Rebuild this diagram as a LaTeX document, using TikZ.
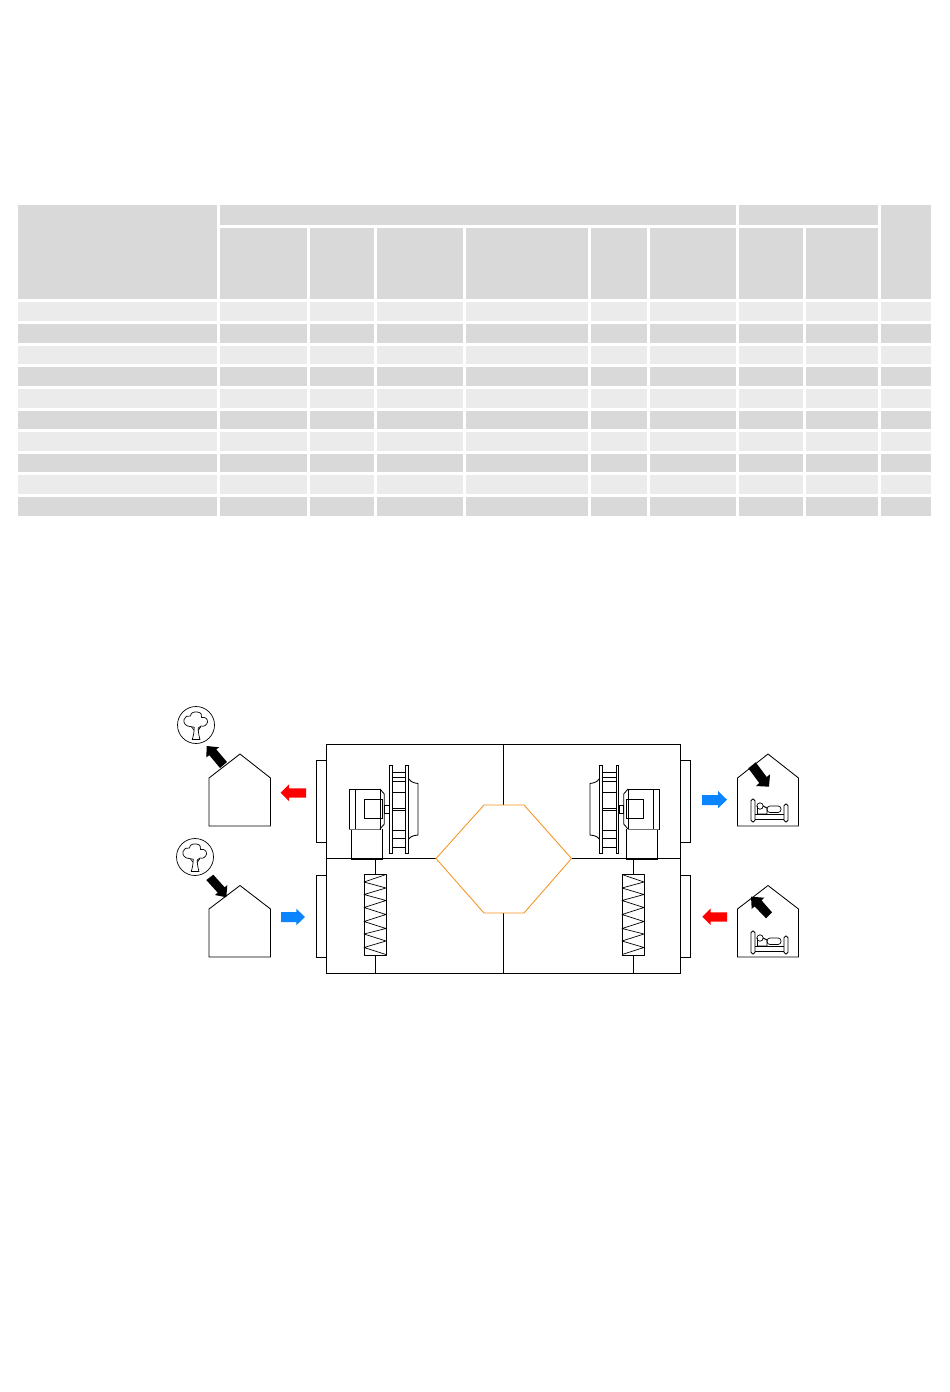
\documentclass[tikz,border=0pt]{standalone}
\definecolor{celldark}{HTML}{D9D9D9}
\definecolor{celllight}{HTML}{EBEBEB}
\definecolor{airblue}{HTML}{0A84FF}
\definecolor{airred}{HTML}{FF0000}
\definecolor{hexorange}{HTML}{F7931E}
\tikzset{
  ln/.style={draw=black,line width=0.85pt,line join=miter},
  thinln/.style={draw=black,line width=0.7pt,line join=round},
  bedln/.style={draw=black,line width=0.95pt,line join=round},
  flow/.style={fill=black,draw=none},
}
\newcommand{\fanunit}[1]{%
  % box under motor
  \draw[ln] (351,829) -- (351,859) -- (382,859) -- (382,829);
  \draw[ln,line width=1.3pt] (351,859) -- (382,859);
  % motor
  \draw[ln] (349,789) rectangle (380,829);
  \draw[ln] (355,789) -- (355,829);
  \draw[ln,draw=black!55] (349,829) -- (380,829);
  \draw[ln] (380,789) -- (384.3,794) -- (384.3,824) -- (380,829);
  \draw[ln] #1 rectangle (382,818);
  % shaft
  \draw[ln] (384.3,805) rectangle (389,813);
  % wheel plates
  \draw[ln] (389.3,765.5) rectangle (392,853);
  \draw[ln] (405.5,765.5) rectangle (408.7,853);
  \foreach \yy in {772,777,781,792,808,810,830,838,847}
    \draw[ln] (392,\yy) -- (405.5,\yy);
  % inlet bell
  \draw[ln] (408.7,779) .. controls (411,782) and (414,783) .. (418,783.5)
    -- (418,835) .. controls (414,835.5) and (411,836) .. (408.7,839);
}
\newcommand{\filterunit}{%
  \draw[thinln] (364,874) rectangle (386,955);
  \draw[thinln] (386,874.5) -- (364,882) -- (386,888) -- (364,894.5) -- (386,900.5)
    -- (364,907.5) -- (386,914.5) -- (364,921.5) -- (386,928.5) -- (364,934)
    -- (386,941) -- (364,947.5) -- (386,954.5);
  \draw[ln] (375,858) -- (375,874);
  \draw[ln] (375,955) -- (375,973);
}
\newcommand{\treeicon}[2]{%
  \begin{scope}[shift={(#1,#2)}]
    \draw[thinln] (0,0) circle (18.5);
    % canopy: three lobes with cusps, open at the trunk
    \draw[thinln] (-1.8,2.2) .. controls (-3.5,1.2) and (-4.5,1.5) .. (-6,1.5)
      .. controls (-10,1.5) and (-13,-2) .. (-12,-5.5)
      .. controls (-11.2,-8.5) and (-8.5,-9.8) .. (-5.5,-9)
      .. controls (-5.5,-12.5) and (-1.5,-13.5) .. (1.5,-13)
      .. controls (5,-12.5) and (6.5,-10) .. (5.5,-7.5)
      .. controls (9,-8.5) and (12,-6) .. (11.5,-3)
      .. controls (11,0) and (8,2) .. (5,1)
      .. controls (4,2) and (3.2,2.6) .. (2.2,3);
    % trunk
    \draw[thinln] (-1.8,2.2) .. controls (-1.8,7) and (-2.6,11) .. (-3.8,14.5)
      -- (4,14.5) .. controls (3,11) and (2.2,7) .. (2.2,3);
    \draw[thinln] (-1.8,5) -- (-4.5,2.2);
    \draw[thinln] (2.1,5.5) -- (4.6,2);
  \end{scope}
}
\newcommand{\bedicon}[1]{%
  \begin{scope}[yshift=#1]
    \draw[bedln,rounded corners=1.8pt] (751,799) rectangle (755,822);
    \draw[bedln,rounded corners=1.8pt] (784,804) rectangle (788,822);
    \draw[bedln] (755,814.5) -- (784,814.5);
    \draw[bedln] (755,819) -- (784,819);
    \draw[thinln] (760,806) circle (3.2);
    \draw[thinln] (757,814) -- (757,806);
    \draw[bedln] (757,814) -- (767,814) -- (767,808) -- (763,806);
    \draw[thinln,rounded corners=3pt] (767,806) rectangle (781,812.5);
  \end{scope}
}
\begin{document}
\begin{tikzpicture}[x=1pt,y=-1pt]
\useasboundingbox (0,0) rectangle (950,1392);
\fill[white] (0,0) rectangle (950,1392);

% ---- table header
\fill[celldark] (18.3,204.7) rectangle (217,299);
\fill[celldark] (220,204.7) rectangle (736,225);
\fill[celldark] (739,204.7) rectangle (878,225);
\fill[celldark] (881,204.7) rectangle (931,299);
\foreach \xa/\xb in {220/307,310/374,377/463,466/588,591/647,650/736,739/803,806/878}
  \fill[celldark] (\xa,228) rectangle (\xb,299);
% ---- table body
\foreach \ya/\yb/\shade in {302/321/celllight,324/343/celldark,346/364/celllight,367/386/celldark,389/408/celllight,411/429/celldark,432/451/celllight,454/472/celldark,475/494/celllight,497/516/celldark}
  \foreach \xa/\xb in {18.3/217,220/307,310/374,377/463,466/588,591/647,650/736,739/803,806/878,881/931}
    \fill[\shade] (\xa,\ya) rectangle (\xb,\yb);

% ---- casing
\draw[ln] (326,744) rectangle (680.5,973);
\draw[ln] (503.5,744) -- (503.5,805);
\draw[ln] (503.5,913) -- (503.5,973);
\draw[ln] (326,858.5) -- (436,858.5);
\draw[ln] (571.5,858.5) -- (680.5,858.5);
\draw[ln] (326,760.5) -- (316,760.5) -- (316,842) -- (326,842);
\draw[ln] (326,875.5) -- (316,875.5) -- (316,957) -- (326,957);
\draw[ln] (680.5,760.5) -- (690.5,760.5) -- (690.5,842) -- (680.5,842);
\draw[ln] (680.5,875.5) -- (690.5,875.5) -- (690.5,957) -- (680.5,957);
% ---- heat exchanger
\draw[hexorange,line width=0.85pt,line join=miter] (436,858.5) -- (484,805) -- (524,805) -- (571.5,858.5) -- (524,913) -- (484,913) -- cycle;

% ---- fans and filters
\fanunit{(364,799)}
\filterunit
\begin{scope}[shift={(1008,0)},xscale=-1]
  \fanunit{(365,799)}
  \filterunit
\end{scope}

% ---- houses
\draw[ln] (209,778) -- (240,754) -- (270.5,778) -- (270.5,826) -- (209,826) -- cycle;
\draw[ln] (209,909) -- (240,885.5) -- (270.5,909) -- (270.5,957) -- (209,957) -- cycle;
\draw[ln] (737.5,778) -- (768,754) -- (798.5,778) -- (798.5,826) -- (737.5,826) -- cycle;
\draw[ln] (737.5,909) -- (768,885.5) -- (798.5,909) -- (798.5,957) -- (737.5,957) -- cycle;

% ---- icons
\treeicon{196}{725}
\treeicon{195}{857}
\bedicon{0pt}
\bedicon{-132pt}

% ---- black flow arrows
\fill[flow] (206.7,746) -- (219.3,747.3) -- (216.2,749.3) -- (227,762) -- (220,768) -- (209.4,755.3) -- (206.3,757.3) -- cycle;
\fill[flow] (206.3,880) -- (213.3,874.7) -- (224.7,887.35) -- (227.3,885) -- (226.3,897.3) -- (215,895) -- (217.7,892.65) -- cycle;
\fill[flow] (748.3,768.3) -- (755.7,762.3) -- (766.7,777) -- (770,774.3) -- (769,786.7) -- (756,786) -- (759.3,783) -- cycle;
\fill[flow] (751,896.7) -- (764.3,897.7) -- (761.5,900.3) -- (772,912.3) -- (766,918.3) -- (754.5,906.3) -- (751.7,909) -- cycle;

% ---- coloured air arrows
\fill[airred] (280.7,792.7) -- (289,784.3) -- (289,788.3) -- (306,788.3) -- (306,797.7) -- (289,797.7) -- (289,801) -- cycle;
\fill[airblue] (281,912) -- (296.3,912) -- (296.3,908.7) -- (305,917) -- (296.3,925.3) -- (296.3,922) -- (281,922) -- cycle;
\fill[airblue] (702,795) -- (718,795) -- (718,791) -- (727,799.7) -- (718,808.3) -- (718,805) -- (702,805) -- cycle;
\fill[airred] (702.3,916.7) -- (710.7,908.3) -- (710.7,912.3) -- (727,912.3) -- (727,921.7) -- (710.7,921.7) -- (710.7,925) -- cycle;
\end{tikzpicture}
\end{document}
